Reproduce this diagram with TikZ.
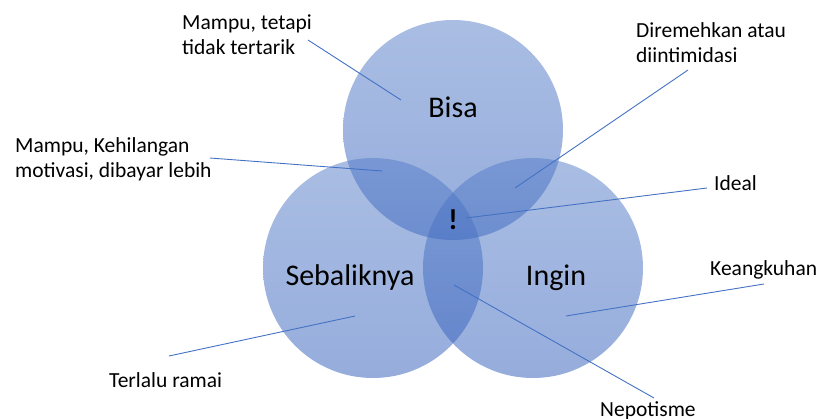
\documentclass[tikz,border=0pt]{standalone}
\usepackage{fontspec}
\setmainfont{Carlito}
\definecolor{vennTop}{RGB}{85,125,200}
\definecolor{vennBottom}{RGB}{45,90,185}
\definecolor{leadBlue}{RGB}{68,114,196}
\begin{document}
\begin{tikzpicture}[x=1pt,y=-1pt,
  venn/.style={top color=vennTop, bottom color=vennBottom, fill opacity=0.5, draw=none},
  lbl/.style={font=\fontsize{21.5}{25}\selectfont, inner sep=0pt, align=left, anchor=base west},
  big/.style={font=\fontsize{30}{36}\selectfont, inner sep=0pt, anchor=base},
  lead/.style={draw=leadBlue, line width=0.9pt}]
\useasboundingbox (0,0) rectangle (817,418);

% the three overlapping sets
\shade[venn] (453,130) circle[radius=110pt];
\shade[venn] (373,268) circle[radius=110pt];
\shade[venn] (533,268) circle[radius=110pt];

% set names
\node[big] (bisa) at (453,117) {Bisa};
\node[big] (seb) at (350,285) {Sebaliknya};
\node[big] (ingin) at (556,285) {Ingin};
\node[big, font=\fontsize{29}{34}\selectfont\bfseries] (ideal-mark) at (453,229) {!};

% callout texts (multi-line nodes sit on the baseline of their last line)
\node[lbl] (tt) at (182,54) {Mampu, tetapi\\tidak tertarik};
\node[lbl] (km) at (15,177) {Mampu, Kehilangan\\motivasi, dibayar lebih};
\node[lbl] (dr) at (636,62) {Diremehkan atau\\diintimidasi};
\node[lbl] (id) at (714,190) {Ideal};
\node[lbl] (ke) at (710,275) {Keangkuhan};
\node[lbl] (ne) at (600,416) {Nepotisme};
\node[lbl] (tr) at (109,387) {Terlalu ramai};

% leader line end points
\coordinate (tt-a) at (308,40);  \coordinate (tt-b) at (401,100);
\coordinate (km-a) at (210,158); \coordinate (km-b) at (382,171);
\coordinate (dr-a) at (688,70);  \coordinate (dr-b) at (515,188);
\coordinate (id-a) at (707,188); \coordinate (id-b) at (466,218);
\coordinate (ke-a) at (764,284); \coordinate (ke-b) at (566,316);
\coordinate (ne-a) at (654,398); \coordinate (ne-b) at (454,285);
\coordinate (tr-a) at (169,356); \coordinate (tr-b) at (355,316);

% leader lines
\draw[lead] (tt-a) -- (tt-b);
\draw[lead] (km-a) -- (km-b);
\draw[lead] (dr-a) -- (dr-b);
\draw[lead] (id-a) -- (id-b);
\draw[lead] (ke-a) -- (ke-b);
\draw[lead] (ne-a) -- (ne-b);
\draw[lead] (tr-a) -- (tr-b);
\end{tikzpicture}
\end{document}
